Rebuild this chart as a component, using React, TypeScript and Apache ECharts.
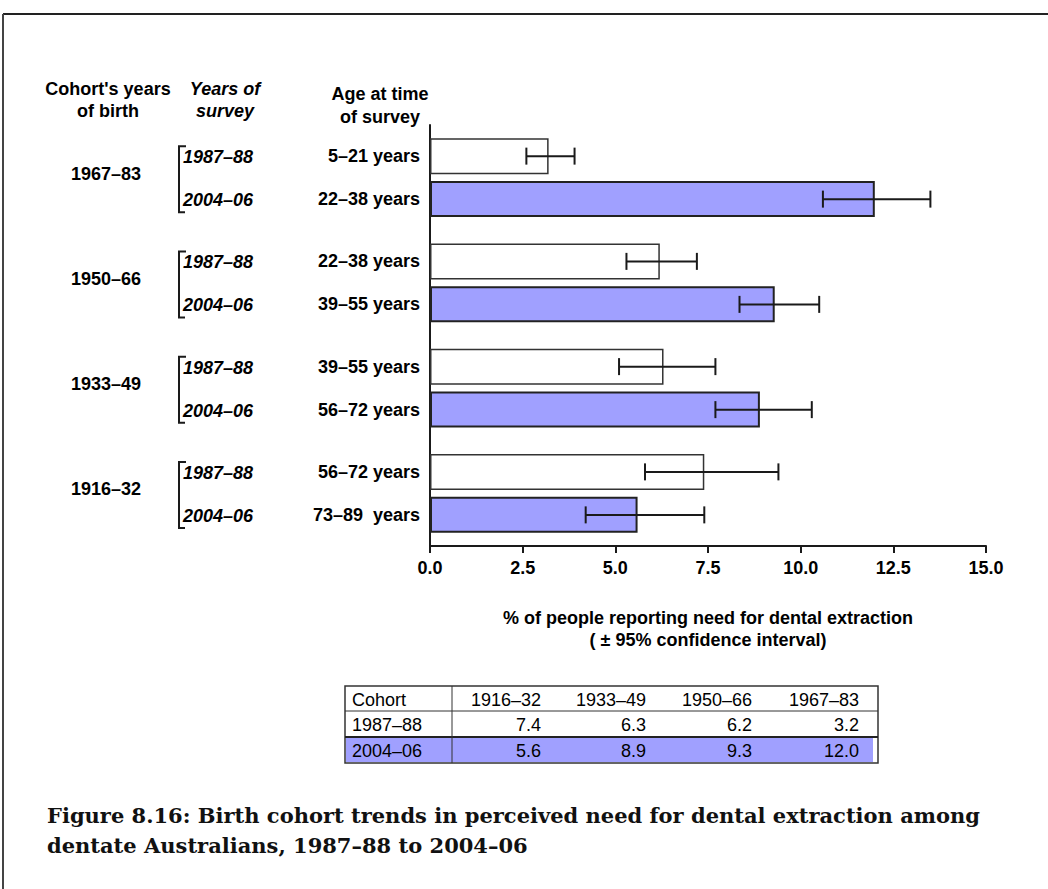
import React, { useEffect, useRef } from 'react';
import * as echarts from 'echarts';

// ---- Data ----
const cohorts = ['1916–32', '1933–49', '1950–66', '1967–83'];
const surveyYears = ['1987–88', '2004–06'];
const values1987 = [7.4, 6.3, 6.2, 3.2];
const values2004 = [5.6, 8.9, 9.3, 12.0];
const low1987 = [5.8, 5.1, 5.3, 2.6];
const high1987 = [9.4, 7.7, 7.2, 3.9];
const low2004 = [4.2, 7.7, 8.35, 10.6];
const high2004 = [7.4, 10.3, 10.5, 13.5];
const ages1987 = ['56–72 years', '39–55 years', '22–38 years', '5–21 years'];
const ages2004 = ['73–89  years', '56–72 years', '39–55 years', '22–38 years'];
const xAxisTitle = '% of people reporting need for dental extraction\n( ± 95% confidence interval)';
const tableHeader = ['Cohort', ...cohorts];
const captionLines = [
  'Figure 8.16: Birth cohort trends in perceived need for dental extraction among',
  'dentate Australians, 1987–88 to 2004–06',
];

const SANS = '"Liberation Sans", Arial, sans-serif';
const SERIF = '"DejaVu Serif", "Liberation Serif", serif';
const BLUE = '#A0A0FF';
const INK = '#1a1a1a';
const BAR_OFFSET = 21.5;

function errorRender(offset: number) {
  return (params: any, api: any) => {
    const cat = api.value(0);
    const lo = api.coord([api.value(1), cat]);
    const hi = api.coord([api.value(2), cat]);
    const y = lo[1] + offset;
    const cap = 8.5;
    const style = { stroke: INK, lineWidth: 2 };
    return {
      type: 'group',
      children: [
        { type: 'line', shape: { x1: lo[0], y1: y, x2: hi[0], y2: y }, style },
        { type: 'line', shape: { x1: lo[0], y1: y - cap, x2: lo[0], y2: y + cap }, style },
        { type: 'line', shape: { x1: hi[0], y1: y - cap, x2: hi[0], y2: y + cap }, style },
      ],
    };
  };
}

function surveyRender(params: any, api: any) {
  const cat = api.value(1);
  const c = api.coord([0, cat]);
  const yTop = c[1] - BAR_OFFSET;
  const yBot = c[1] + BAR_OFFSET;
  const bx = 179;
  const ls = { stroke: INK, lineWidth: 2, fill: null };
  const txt = (t: string, y: number) => ({
    type: 'text',
    style: {
      text: t, x: 183, y,
      fontFamily: SANS, fontSize: 18, fontWeight: 'bold', fontStyle: 'italic',
      fill: '#000', align: 'left', verticalAlign: 'middle',
    },
  });
  return {
    type: 'group',
    children: [
      { type: 'polyline', shape: { points: [[bx + 7, yTop - 10], [bx, yTop - 10], [bx, yBot + 13], [bx + 6, yBot + 13]] }, style: ls },
      txt(surveyYears[0], yTop + 1),
      txt(surveyYears[1], yBot + 1),
    ],
  };
}

function buildTable() {
  const left = 345, right = 878, divX = 452;
  const rows = [686, 711, 737, 763];
  const colRight = [541, 646, 752, 859];
  const els: any[] = [];
  els.push({ type: 'rect', shape: { x: left + 1, y: rows[2] + 1, width: 873 - left - 1, height: rows[3] - rows[2] - 2 }, style: { fill: BLUE } });
  els.push({ type: 'rect', shape: { x: left, y: rows[0], width: right - left, height: rows[3] - rows[0] }, style: { fill: null, stroke: '#333', lineWidth: 1.5 } });
  els.push({ type: 'line', shape: { x1: left, y1: rows[1], x2: right, y2: rows[1] }, style: { stroke: '#333', lineWidth: 1 } });
  els.push({ type: 'line', shape: { x1: left, y1: rows[2], x2: right, y2: rows[2] }, style: { stroke: '#222', lineWidth: 2 } });
  els.push({ type: 'line', shape: { x1: divX, y1: rows[0], x2: divX, y2: rows[3] }, style: { stroke: '#333', lineWidth: 1 } });
  const rowData = [tableHeader, [surveyYears[0], ...values1987.map(v => v.toFixed(1))], [surveyYears[1], ...values2004.map(v => v.toFixed(1))]];
  rowData.forEach((row, r) => {
    const yc = (rows[r] + rows[r + 1]) / 2 + 1;
    row.forEach((t, ci) => {
      els.push({
        type: 'text',
        style: {
          text: t,
          x: ci === 0 ? 352 : colRight[ci - 1],
          y: yc,
          fontFamily: SANS, fontSize: 18, fill: '#000',
          align: ci === 0 ? 'left' : 'right', verticalAlign: 'middle',
        },
      });
    });
  });
  return els;
}

function headerText(t: string, x: number, y: number, italic = false) {
  return {
    type: 'text',
    style: {
      text: t, x, y, fontFamily: SANS, fontSize: 18, fontWeight: 'bold',
      fontStyle: italic ? 'italic' : 'normal', fill: '#000', align: 'center', verticalAlign: 'middle',
    },
  };
}

export default function App() {
  const ref = useRef<HTMLDivElement>(null);
  useEffect(() => {
    if (!ref.current) return;
    const chart = echarts.init(ref.current, undefined, { renderer: 'svg' });
    const labelStyle = { fontFamily: SANS, fontSize: 18, fontWeight: 'bold', color: '#000' };
    chart.setOption({
      animation: false,
      backgroundColor: '#fff',
      grid: { left: 430, right: 62, top: 125, bottom: 343, containLabel: false },
      xAxis: {
        type: 'value', min: 0, max: 15, interval: 2.5,
        splitLine: { show: false },
        axisLine: { show: true, lineStyle: { color: INK, width: 2 } },
        axisTick: { show: true, length: 7, lineStyle: { color: INK, width: 2 } },
        axisLabel: { ...labelStyle, margin: 13, formatter: (v: number) => v.toFixed(1) },
        name: xAxisTitle,
        nameLocation: 'middle',
        nameGap: 61,
        nameTextStyle: { ...labelStyle, lineHeight: 22 },
      },
      yAxis: {
        type: 'category', data: cohorts,
        axisLine: { show: true, lineStyle: { color: INK, width: 2 } },
        axisTick: { show: false },
        axisLabel: { ...labelStyle, margin: 324, align: 'center', verticalAlign: 'bottom', lineHeight: 8 },
      },
      series: [
        {
          name: surveyYears[0], type: 'bar', data: values1987, barWidth: 36, barGap: '19.4%',
          itemStyle: { color: '#fff', borderColor: '#333', borderWidth: 1.5 },
          label: { show: true, position: 'left', distance: 10, ...labelStyle, formatter: (p: any) => ages1987[p.dataIndex] },
        },
        {
          name: surveyYears[1], type: 'bar', data: values2004, barWidth: 36, barGap: '19.4%',
          itemStyle: { color: BLUE, borderColor: '#222', borderWidth: 2 },
          label: { show: true, position: 'left', distance: 10, ...labelStyle, formatter: (p: any) => ages2004[p.dataIndex] },
        },
        {
          type: 'custom', name: 'ci1987', renderItem: errorRender(-BAR_OFFSET),
          data: cohorts.map((c, i) => [i, low1987[i], high1987[i]]),
          encode: { y: 0, x: [1, 2] }, z: 5,
        },
        {
          type: 'custom', name: 'ci2004', renderItem: errorRender(BAR_OFFSET),
          data: cohorts.map((c, i) => [i, low2004[i], high2004[i]]),
          encode: { y: 0, x: [1, 2] }, z: 5,
        },
        {
          type: 'custom', name: 'survey', renderItem: surveyRender,
          data: cohorts.map((c, i) => [0, i]),
          encode: { x: 0, y: 1 }, clip: false,
        },
      ],
      graphic: [
        { type: 'line', shape: { x1: 3, y1: 14, x2: 1048, y2: 14 }, style: { stroke: '#222', lineWidth: 2 } },
        { type: 'line', shape: { x1: 3, y1: 14, x2: 3, y2: 889 }, style: { stroke: '#444', lineWidth: 2 } },
        headerText("Cohort's years", 108, 89),
        headerText('of birth', 108, 111),
        headerText('Years of', 225, 89, true),
        headerText('survey', 225, 111, true),
        headerText('Age at time', 380, 94),
        headerText('of survey', 380, 117),
        ...buildTable(),
        ...captionLines.map((t, i) => ({
          type: 'text',
          style: {
            text: t, x: 47, y: 815 + i * 30, fontFamily: SERIF, fontSize: 21, fontWeight: 'bold',
            fill: '#111', align: 'left', verticalAlign: 'middle',
          },
        })),
      ],
    });
    return () => chart.dispose();
  }, []);
  return <div ref={ref} style={{ position: 'absolute', left: 0, top: 0, width: 1048, height: 889 }} />;
}
